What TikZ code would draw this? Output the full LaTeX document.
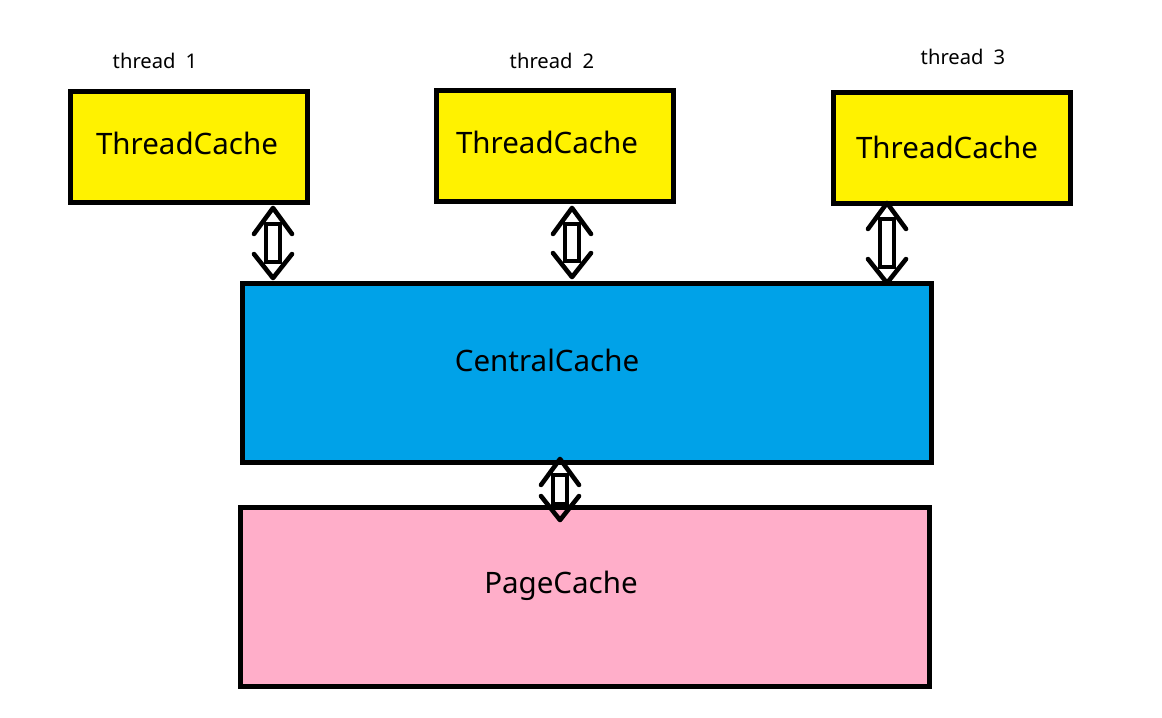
\documentclass[tikz,border=0pt]{standalone}
\usepackage{fontspec}
\setmainfont{Noto Sans}
\usetikzlibrary{calc}
\definecolor{tcYellow}{RGB}{255,242,0}
\definecolor{ccBlue}{RGB}{0,162,232}
\definecolor{pcPink}{RGB}{255,174,201}
\begin{document}
\begin{tikzpicture}
[x=0.02cm,y=-0.02cm,
  boxDecorate/.style={draw,line width=2.8pt,inner sep=0pt},
  textDecorate/.style={font=\fontsize{16.8}{18}\selectfont},
  labelDecorate/.style={font=\fontsize{11.5}{13}\selectfont},
  headDecorate/.style={line width=2.6pt,line cap=round,line join=round},
  shaftDecorate/.style={draw,fill=white,line width=2.2pt}]
\useasboundingbox (0,0) rectangle (1162,717);
%% thread caches and their labels
\foreach \nodename/\x/\y/\tx/\ty/\lx/\ly/\num in {
  tca/189/147/187/143/155/61/1, tcb/555/146/547/142/552/61/2,
  tcc/952/148/947/147/963/57/3}
{
  \node (\nodename) at (\x,\y) [boxDecorate,fill=tcYellow,
    minimum width=4.75cm,minimum height=2.22cm] {};
  \node (\nodename txt) at (\tx,\ty) [textDecorate] {ThreadCache};
  \node (\nodename lbl) at (\lx,\ly) [labelDecorate] {thread\hspace{0.5em}\num};
}
%% central and page cache
\node (central) at (587,373) [boxDecorate,fill=ccBlue,
  minimum width=13.8cm,minimum height=3.58cm] {};
\node (centraltxt) at (547,360) [textDecorate] {CentralCache};
\node (page) at (585,597) [boxDecorate,fill=pcPink,
  minimum width=13.8cm,minimum height=3.58cm] {};
\node (pagetxt) at (561,586) [textDecorate] {PageCache};
%% double arrows between the caches
\foreach \from/\to/\x/\padtop/\padbot in {
  tca/central/273/3/3, tcb/central/572/4/4, tcc/central/887/-3/-2,
  central/page/560/-6/-15}
{
  \coordinate (s) at ($(\x,0 |- \from.south)+(0,\padtop)$);
  \coordinate (e) at ($(\x,0 |- \to.north)-(0,\padbot)$);
  \draw[shaftDecorate] ($(s)+(-7,16)$) rectangle ($(e)+(7,-16)$);
  \draw[headDecorate] ($(s)+(-19,26)$) -- (s) -- ($(s)+(19,26)$);
  \draw[headDecorate] ($(e)+(-19,-24)$) -- (e) -- ($(e)+(19,-24)$);
}
\end{tikzpicture}
\end{document}
